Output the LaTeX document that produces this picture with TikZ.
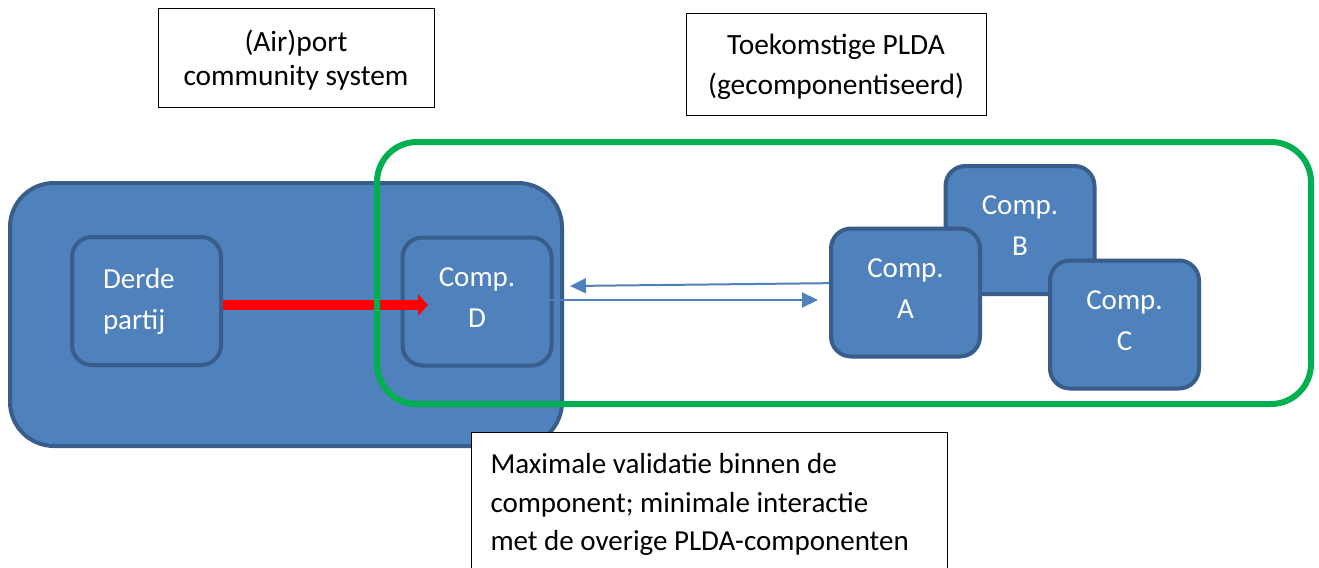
\documentclass[tikz,border=0pt]{standalone}
\usepackage{fontspec}
\setmainfont{Carlito}
\usetikzlibrary{arrows.meta}
\definecolor{compblue}{HTML}{4F81BD}
\definecolor{compline}{HTML}{385D8A}
\definecolor{pldagreen}{HTML}{00B050}

\begin{document}
\begin{tikzpicture}[
  x=0.5pt, y=-0.5pt,
  every node/.style = {font=\fontsize{14.5}{20.5}\selectfont},
  comp/.style = {shape=rectangle, rounded corners=10pt, draw=compline, line width=2pt,
    fill=compblue, text=white, align=center, minimum width=74.5pt, minimum height=64pt,
    inner sep=0pt, text depth=4pt},
  note/.style = {shape=rectangle, draw=black, line width=0.5pt, fill=white, inner sep=0pt},
  flow/.style = {draw=compblue, line width=1pt, -{Triangle[length=8pt, width=7.5pt]}}
]
  \useasboundingbox (0,0) rectangle (1319,568);
  \clip (0,0) rectangle (1319,568);
  \fill[white] (0,0) rectangle (1319,568);

  % (air)port community system
  \node[shape=rectangle, rounded corners=22pt, draw=compline, line width=2pt, fill=compblue,
    minimum width=276pt, minimum height=131.5pt] (acs) at (286,314.5) {};
  \node[comp, align=left, text width=43.5pt, inner xsep=15.5pt, text depth={}] (derde) at (146.5,301) {Derde\\partij};
  \node[comp] (compD) at (477,301.5) {Comp.\\D};

  \coordinate (redtip) at (428,305);
  \draw[red, line width=5pt, -{Triangle[length=5pt, width=10.5pt]}] (derde.east |- redtip) -- (redtip);

  % toekomstige PLDA
  \node[shape=rectangle, rounded corners=20pt, draw=pldagreen, line width=3pt,
    minimum width=467pt, minimum height=131pt] (plda) at (844,273) {};

  \coordinate (backstart) at (845,283);
  \coordinate (backend) at (570,286);
  \coordinate (outstart) at (537,300);
  \coordinate (outend) at (818,300);
  \draw[flow] (backstart) -- (backend);
  \draw[flow] (outstart) -- (outend);

  \node[comp] (compB) at (1020,230) {Comp.\\B};
  \node[comp] (compA) at (905.5,292.5) {Comp.\\A};
  \node[comp] (compC) at (1124.5,324.5) {Comp.\\C};

  % labels
  \node[note, align=center, font=\fontsize{14.7}{17}\selectfont, text depth=-1pt,
    minimum width=138pt, minimum height=49.5pt] (acslabel) at (296,57.5) {(Air)port\\community system};
  \node[note, align=center, font=\fontsize{14.7}{20}\selectfont, text depth=-1pt,
    minimum width=150pt, minimum height=51pt] (pldalabel) at (836,64) {Toekomstige PLDA\\(gecomponentiseerd)};
  \node[note, anchor=north west, align=left, font=\fontsize{14.5}{19.3}\selectfont,
    text width=219pt, inner xsep=9.5pt, inner ysep=9pt, minimum height=72pt] (remark) at (471,432)
    {\spaceskip=0pt \xspaceskip=0pt Maximale validatie binnen de\\component; minimale interactie\\met de overige PLDA-componenten};
\end{tikzpicture}
\end{document}
